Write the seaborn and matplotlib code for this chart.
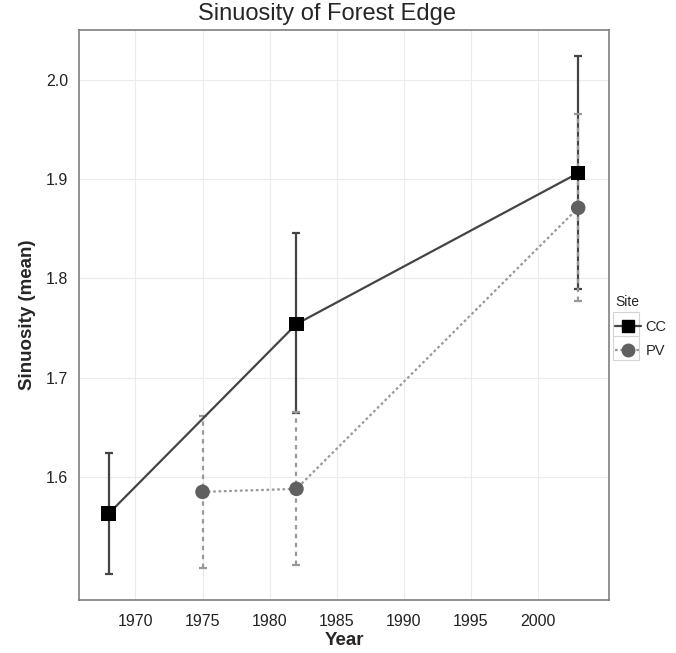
import pandas as pd
import seaborn as sns
import matplotlib.pyplot as plt
from matplotlib.lines import Line2D
from matplotlib.patches import Rectangle

# values
sites = ["CC", "CC", "CC", "PV", "PV", "PV"]
years = [1968, 1982, 2003, 1975, 1982, 2003]
means = [1.563, 1.754, 1.906, 1.585, 1.588, 1.871]
lower = [1.502, 1.664, 1.789, 1.508, 1.511, 1.777]
upper = [1.624, 1.846, 2.024, 1.661, 1.665, 1.965]

df = pd.DataFrame({"Site": sites, "Year": years, "mean": means,
                   "lower": lower, "upper": upper})

sns.set_style("white")
plt.rcParams["font.family"] = ["Liberation Sans", "DejaVu Sans"]

fig = plt.figure(figsize=(6.76, 6.53), dpi=100)
ax = fig.add_axes([0.117, 0.081, 0.784, 0.873])

line_col = {"CC": "#444444", "PV": "#999999"}
mark_col = {"CC": "black", "PV": "#606060"}
styles = {"CC": "-", "PV": (0, (2, 2))}

for site, sub in df.groupby("Site"):
    ax.errorbar(sub["Year"], sub["mean"],
                yerr=[sub["mean"] - sub["lower"], sub["upper"] - sub["mean"]],
                fmt="none", ecolor=line_col[site], elinewidth=1.6,
                capsize=3, capthick=1.6, zorder=2)
    ebars = ax.containers[-1]
    for coll in ebars.lines[2]:
        coll.set_linestyle(styles[site])

sns.lineplot(data=df, x="Year", y="mean", hue="Site", style="Site",
             palette=line_col, dashes={"CC": "", "PV": (1.2, 1.2)},
             linewidth=1.6, legend=False, ax=ax, zorder=3)
sns.scatterplot(data=df, x="Year", y="mean", hue="Site", style="Site",
                palette=mark_col, markers={"CC": "s", "PV": "o"},
                s=110, edgecolor="none", legend=False, ax=ax, zorder=4)

ax.set_xlim(1965.8, 2005.3)
ax.set_ylim(1.476, 2.05)
ax.set_xticks([1970, 1975, 1980, 1985, 1990, 1995, 2000])
ax.set_yticks([1.6, 1.7, 1.8, 1.9, 2.0])
ax.set_yticklabels(["1.6", "1.7", "1.8", "1.9", "2.0"])
ax.grid(True, color="#ebebeb", linewidth=0.8)
ax.set_axisbelow(True)
for sp in ax.spines.values():
    sp.set_color("#7f7f7f")
    sp.set_linewidth(1.2)
ax.tick_params(axis="both", length=4, width=1, color="#7f7f7f",
               labelsize=11.5, labelcolor="#222222")
ax.tick_params(axis="x", pad=6)
ax.tick_params(axis="y", pad=4)

ax.set_xlabel("Year", fontsize=13.5, fontweight="bold", labelpad=2)
ax.set_ylabel("Sinuosity (mean)", fontsize=13.5, fontweight="bold", labelpad=7)
fig.text(0.484, 1 - 3 / 653, "Sinuosity of Forest Edge", fontsize=17,
         ha="center", va="top")

handles = [
    Line2D([], [], color=line_col["CC"], linestyle="-", linewidth=1.6,
           marker="s", markersize=9, markerfacecolor="black",
           markeredgecolor="black"),
    Line2D([], [], color=line_col["PV"], linestyle=(0, (1.2, 1.2)), linewidth=1.6,
           marker="o", markersize=9, markerfacecolor=mark_col["PV"],
           markeredgecolor=mark_col["PV"]),
]
leg = fig.legend(handles, ["CC", "PV"], title="Site", loc="upper left",
                 bbox_to_anchor=(611 / 676, 1 - 291 / 653), frameon=False,
                 fontsize=10.5, title_fontsize=10, handlelength=1.75,
                 handletextpad=0.3, borderaxespad=0, borderpad=0.3,
                 labelspacing=0.72)
leg._legend_box.align = "left"

# light boxes behind the legend keys
for top in (312, 336):
    fig.add_artist(Rectangle((613 / 676, 1 - (top + 24) / 653), 26 / 676,
                             24 / 653, transform=fig.transFigure, fill=False,
                             edgecolor="#d4d4d4", linewidth=0.8))

fig.savefig("out.png", dpi=100)
